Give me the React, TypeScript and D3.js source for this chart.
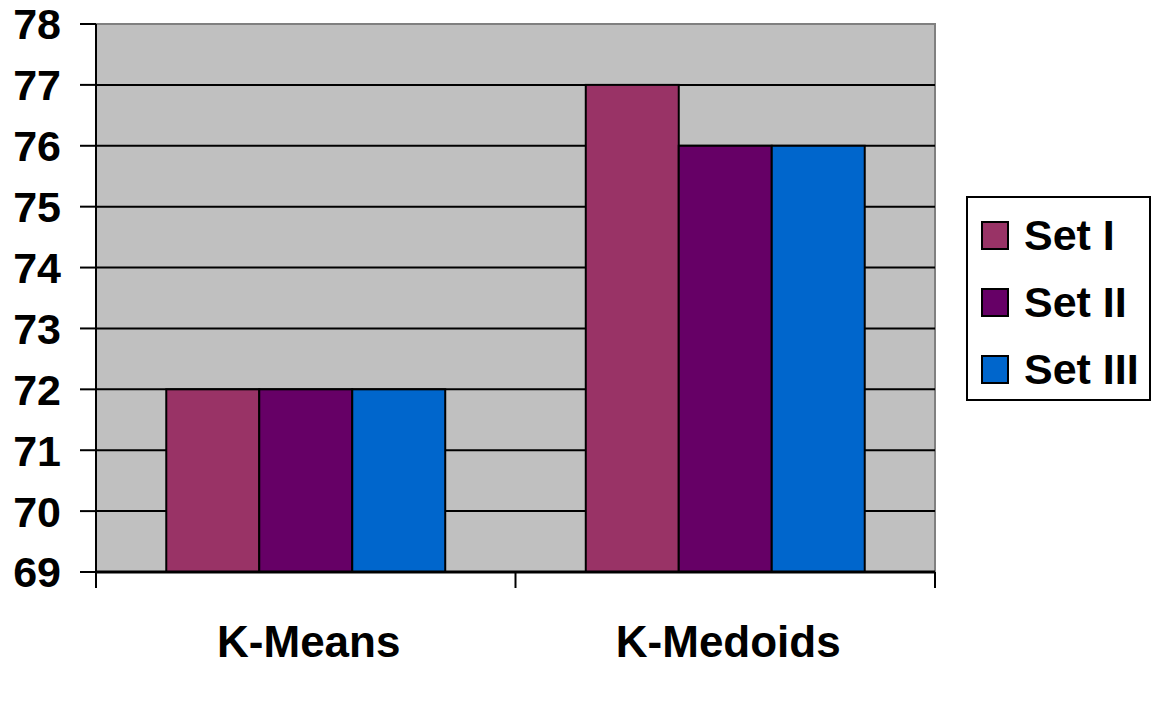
import React, { useEffect, useRef } from 'react';
import * as d3 from 'd3';

const categories = ['K-Means', 'K-Medoids'];
const seriesNames = ['Set I', 'Set II', 'Set III'];
const seriesColors = ['#993366', '#660066', '#0066CC'];
const setI = [72, 77];
const setII = [72, 76];
const setIII = [72, 76];
const yTicks = [69, 70, 71, 72, 73, 74, 75, 76, 77, 78];

const App: React.FC = () => {
  const ref = useRef<SVGSVGElement | null>(null);

  useEffect(() => {
    if (!ref.current) return;
    const svg = d3.select(ref.current);
    svg.selectAll('*').remove();
    const width = 1170;
    const height = 715;
    svg.attr('width', width).attr('height', height);

    const left = 96;
    const right = 935;
    const top = 24;
    const bottom = 572;
    const font = 'Arial, "Liberation Sans", sans-serif';

    const x = d3.scaleBand<string>().domain(categories).range([left, right])
      .paddingInner(0.335).paddingOuter(0.1675);
    const xs = d3.scaleBand<string>().domain(seriesNames).range([0, x.bandwidth()]);
    const y = d3.scaleLinear().domain([69, 78]).range([bottom, top]);

    // plot background
    svg.append('rect')
      .attr('x', left).attr('y', top)
      .attr('width', right - left).attr('height', bottom - top)
      .attr('fill', '#C0C0C0')
      .attr('stroke', '#808080').attr('stroke-width', 2);

    // gridlines
    svg.append('g').selectAll('line')
      .data(yTicks.slice(1, -1))
      .enter().append('line')
      .attr('x1', left).attr('x2', right)
      .attr('y1', (d) => y(d)).attr('y2', (d) => y(d))
      .attr('stroke', '#000').attr('stroke-width', 2);

    // bars
    const values = [setI, setII, setIII];
    const g = svg.append('g');
    seriesNames.forEach((s, si) => {
      g.selectAll(`.bar-${si}`)
        .data(categories)
        .enter().append('rect')
        .attr('x', (c) => (x(c) as number) + (xs(s) as number))
        .attr('y', (c, i) => y(values[si][i]))
        .attr('width', xs.bandwidth())
        .attr('height', (c, i) => y(69) - y(values[si][i]))
        .attr('fill', seriesColors[si])
        .attr('stroke', '#000').attr('stroke-width', 2);
    });

    // y axis
    const yAxis = svg.append('g');
    yAxis.append('line')
      .attr('x1', left).attr('x2', left).attr('y1', top).attr('y2', bottom + 16)
      .attr('stroke', '#000').attr('stroke-width', 2);
    yAxis.selectAll('.tick')
      .data(yTicks)
      .enter().append('line')
      .attr('x1', left - 16).attr('x2', left)
      .attr('y1', (d) => y(d)).attr('y2', (d) => y(d))
      .attr('stroke', '#000').attr('stroke-width', 2);
    yAxis.selectAll('text')
      .data(yTicks)
      .enter().append('text')
      .attr('x', 61).attr('y', (d) => y(d))
      .attr('dy', '0.36em')
      .attr('text-anchor', 'end')
      .attr('font-family', font).attr('font-weight', 'bold').attr('font-size', 43)
      .text((d) => d);

    // x axis
    const xAxis = svg.append('g');
    xAxis.append('line')
      .attr('x1', left).attr('x2', right).attr('y1', bottom).attr('y2', bottom)
      .attr('stroke', '#000').attr('stroke-width', 3);
    const edges = [left, ...categories.map((c) => (x(c) as number) + x.bandwidth() + x.step() * 0.335 / 2)];
    xAxis.selectAll('.xt')
      .data(edges)
      .enter().append('line')
      .attr('x1', (d) => d).attr('x2', (d) => d)
      .attr('y1', bottom).attr('y2', bottom + 16)
      .attr('stroke', '#000').attr('stroke-width', 2);
    xAxis.selectAll('text')
      .data(categories)
      .enter().append('text')
      .attr('x', (c) => (x(c) as number) + x.bandwidth() / 2 + 3)
      .attr('y', 641).attr('dy', '0.36em')
      .attr('text-anchor', 'middle')
      .attr('font-family', font).attr('font-weight', 'bold').attr('font-size', 44)
      .text((c) => c);

    // legend
    const lg = svg.append('g');
    lg.append('rect')
      .attr('x', 967).attr('y', 197).attr('width', 183).attr('height', 203)
      .attr('fill', '#fff').attr('stroke', '#000').attr('stroke-width', 2);
    const ly = d3.scalePoint<string>().domain(seriesNames).range([235, 369]);
    seriesNames.forEach((s, si) => {
      lg.append('rect')
        .attr('x', 982).attr('y', (ly(s) as number) - 13)
        .attr('width', 26).attr('height', 27)
        .attr('fill', seriesColors[si])
        .attr('stroke', '#000').attr('stroke-width', 2);
      lg.append('text')
        .attr('x', 1024).attr('y', ly(s) as number).attr('dy', '0.36em')
        .attr('font-family', font).attr('font-weight', 'bold').attr('font-size', 43)
        .text(s);
    });
  }, []);

  return <svg ref={ref} style={{ position: 'absolute', left: 0, top: 0 }}></svg>;
};

export default App;
